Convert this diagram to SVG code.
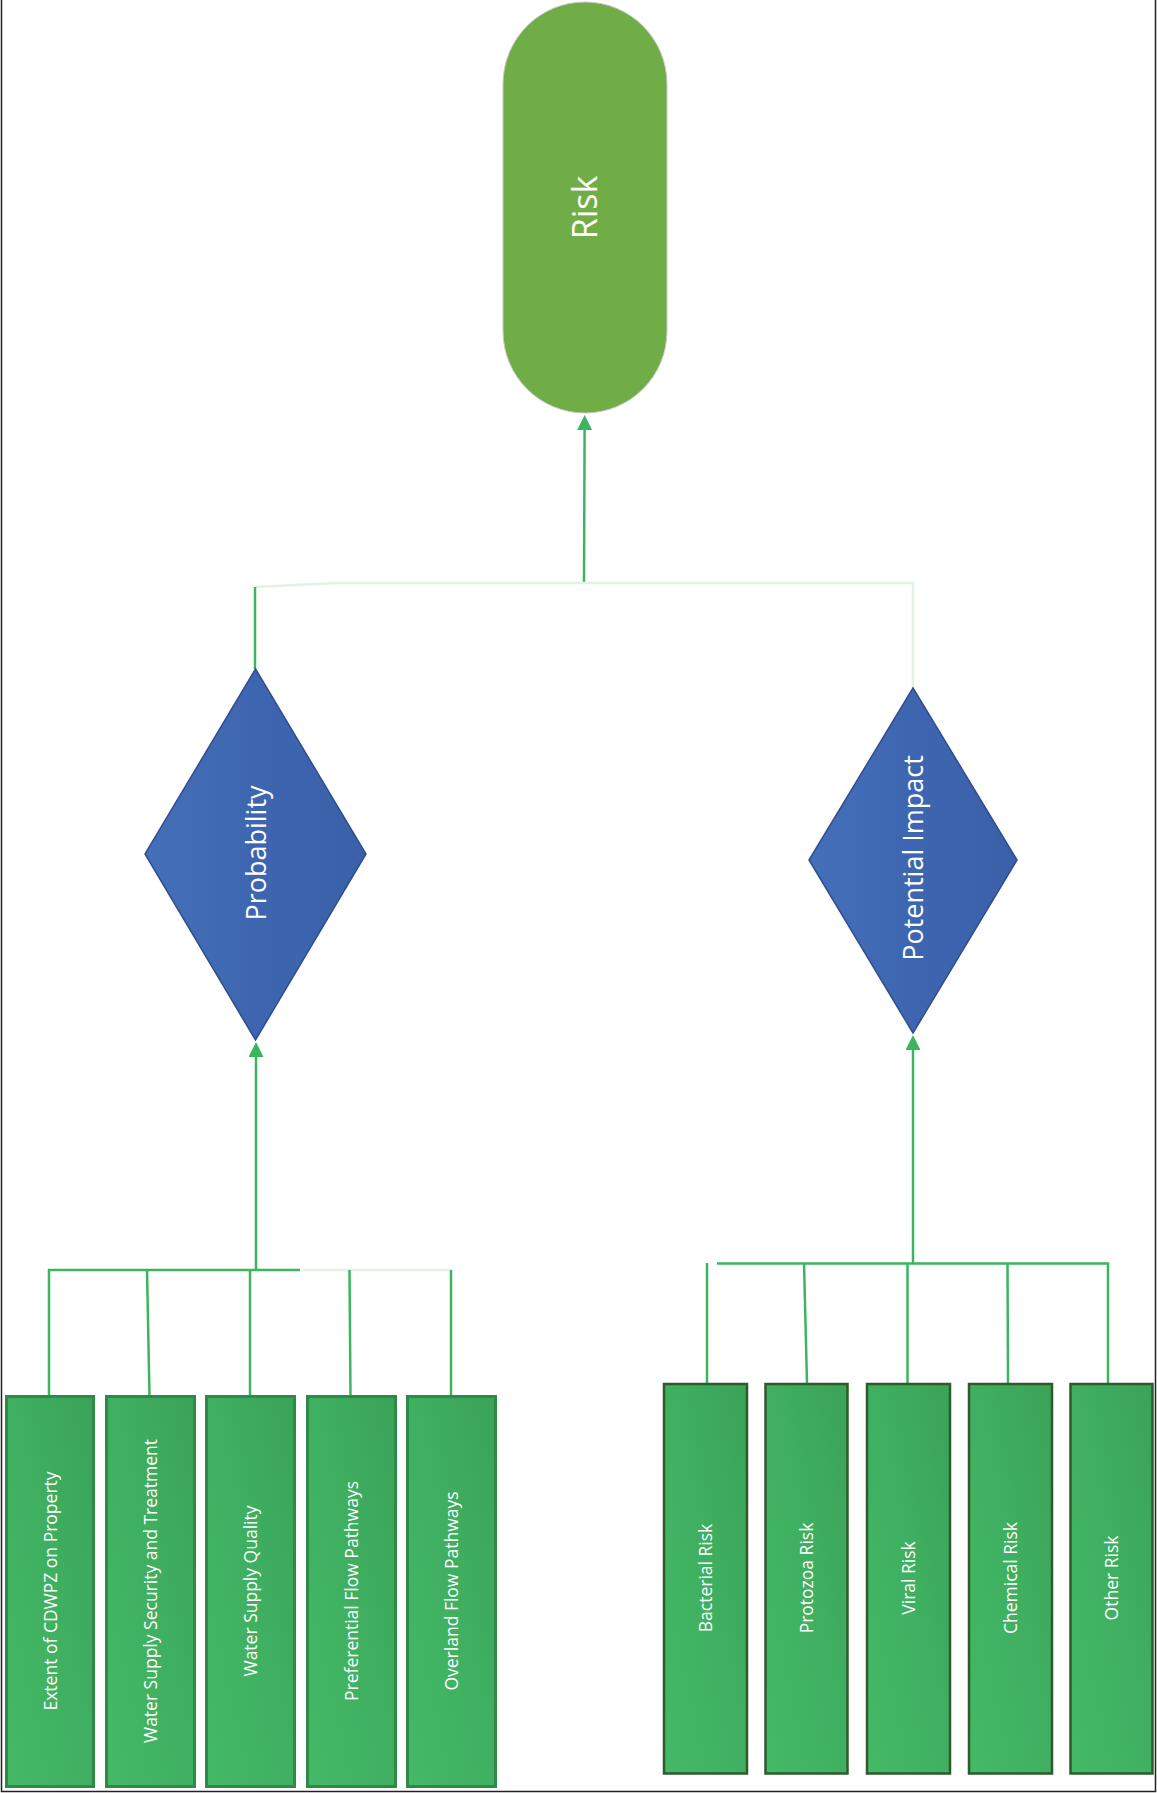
<svg xmlns="http://www.w3.org/2000/svg" width="1157" height="1793" viewBox="0 0 1157 1793">
  <defs>
    <linearGradient id="boxFill" x1="0" y1="1" x2="1" y2="0">
      <stop offset="0" stop-color="#44b966"/>
      <stop offset="0.5" stop-color="#3fb061"/>
      <stop offset="1" stop-color="#3aa358"/>
    </linearGradient>
    <linearGradient id="diamondFill" x1="0" y1="0" x2="1" y2="0">
      <stop offset="0" stop-color="#4470b9"/>
      <stop offset="0.5" stop-color="#3e66b0"/>
      <stop offset="1" stop-color="#3b60aa"/>
    </linearGradient>
    <marker id="arrow" viewBox="0 0 16 16" refX="0" refY="8" markerWidth="16" markerHeight="15" markerUnits="userSpaceOnUse" orient="auto">
      <path d="M0,0 L16,8 L0,16 z" fill="#3cb560"/>
    </marker>
    <style>
      .lbl { font-family: "Open Sans", "Liberation Sans", sans-serif; fill: #ffffff; text-anchor: middle; }
      .big { font-size: 34px; }
      .mid { font-size: 27px; }
      .small { font-size: 17.5px; }
      .boxL { fill: url(#boxFill); stroke: #2f8a49; stroke-width: 3; }
      .boxR { fill: url(#boxFill); stroke: #2f5a2c; stroke-width: 2.5; }
      .diamond { fill: url(#diamondFill); stroke: #2f4e8d; stroke-width: 1.5; }
      .wire { fill: none; stroke: #3db560; stroke-width: 2.5; }
      .faint { fill: none; stroke: #e4f2e6; stroke-width: 2.5; }
    </style>
  </defs>

  <!-- page frame (left, right and bottom edges) -->
  <path d="M1.5,0 V1791.5 H1155.5 V0" fill="none" stroke="#222222" stroke-width="1.5"/>

  <!-- connectors -->
  <g id="connectors">
    <!-- Probability / Potential Impact into Risk -->
    <line class="wire" x1="584" y1="584" x2="584.6" y2="430" marker-end="url(#arrow)"/>
    <path class="faint" d="M255,587 L338,583 H913 V688"/>
    <line class="wire" x1="255" y1="587" x2="255" y2="669"/>

    <!-- probability inputs -->
    <line class="wire" x1="256" y1="1271" x2="256" y2="1057" marker-end="url(#arrow)"/>
    <path class="faint" d="M303,1270 H451"/>
    <path class="wire" d="M49,1396 V1270 H300"/>
    <line class="wire" x1="149.5" y1="1396" x2="147" y2="1270"/>
    <line class="wire" x1="250" y1="1396" x2="250" y2="1270"/>
    <line class="wire" x1="350.5" y1="1396" x2="349.5" y2="1270"/>
    <line class="wire" x1="451" y1="1396" x2="451" y2="1270"/>

    <!-- impact inputs -->
    <line class="wire" x1="913" y1="1264" x2="913" y2="1050" marker-end="url(#arrow)"/>
    <path class="wire" d="M717,1263.5 H1108 V1383"/>
    <line class="wire" x1="707" y1="1263" x2="707" y2="1383"/>
    <line class="wire" x1="804" y1="1263" x2="807" y2="1383"/>
    <line class="wire" x1="907.5" y1="1263" x2="907.5" y2="1383"/>
    <line class="wire" x1="1007.5" y1="1263" x2="1008" y2="1383"/>
  </g>

  <!-- top outcome -->
  <g id="node-risk">
    <rect x="503" y="2" width="164" height="411" rx="82" ry="82" fill="#71ad46" stroke="#c9c9c9" stroke-width="1"/>
    <text class="lbl big" transform="translate(597,207.5) rotate(-90)">Risk</text>
  </g>

  <!-- decisions -->
  <g id="node-probability">
    <polygon class="diamond" points="255.5,669 366,854 255.5,1040 145,854"/>
    <text class="lbl mid" transform="translate(266,853) rotate(-90)">Probability</text>
  </g>
  <g id="node-impact">
    <polygon class="diamond" points="913,688 1017,860 913,1033 809,860"/>
    <text class="lbl mid" transform="translate(923,858) rotate(-90)">Potential Impact</text>
  </g>

  <!-- probability factors -->
  <g id="node-extent">
    <rect class="boxL" x="6.5" y="1396.5" width="87" height="390"/>
    <text class="lbl small" transform="translate(56.5,1591) rotate(-90)">Extent of CDWPZ on Property</text>
  </g>
  <g id="node-security">
    <rect class="boxL" x="106.5" y="1396.5" width="88" height="390"/>
    <text class="lbl small" transform="translate(157,1591) rotate(-90)">Water Supply Security and Treatment</text>
  </g>
  <g id="node-quality">
    <rect class="boxL" x="206.5" y="1396.5" width="88" height="390"/>
    <text class="lbl small" transform="translate(257,1591) rotate(-90)">Water Supply Quality</text>
  </g>
  <g id="node-preferential">
    <rect class="boxL" x="307.5" y="1396.5" width="88" height="390"/>
    <text class="lbl small" transform="translate(358,1591) rotate(-90)">Preferential Flow Pathways</text>
  </g>
  <g id="node-overland">
    <rect class="boxL" x="407.5" y="1396.5" width="88" height="390"/>
    <text class="lbl small" transform="translate(458,1591) rotate(-90)">Overland Flow Pathways</text>
  </g>

  <!-- impact factors -->
  <g id="node-bacterial">
    <rect class="boxR" x="664" y="1384" width="83" height="389.5"/>
    <text class="lbl small" transform="translate(712,1578) rotate(-90)">Bacterial Risk</text>
  </g>
  <g id="node-protozoa">
    <rect class="boxR" x="765.5" y="1384" width="82" height="389.5"/>
    <text class="lbl small" transform="translate(813,1578) rotate(-90)">Protozoa Risk</text>
  </g>
  <g id="node-viral">
    <rect class="boxR" x="867" y="1384" width="83" height="389.5"/>
    <text class="lbl small" transform="translate(915,1578) rotate(-90)">Viral Risk</text>
  </g>
  <g id="node-chemical">
    <rect class="boxR" x="969" y="1384" width="83" height="389.5"/>
    <text class="lbl small" transform="translate(1017,1578) rotate(-90)">Chemical Risk</text>
  </g>
  <g id="node-other">
    <rect class="boxR" x="1070.5" y="1384" width="82" height="389.5"/>
    <text class="lbl small" transform="translate(1118,1578) rotate(-90)">Other Risk</text>
  </g>
</svg>
